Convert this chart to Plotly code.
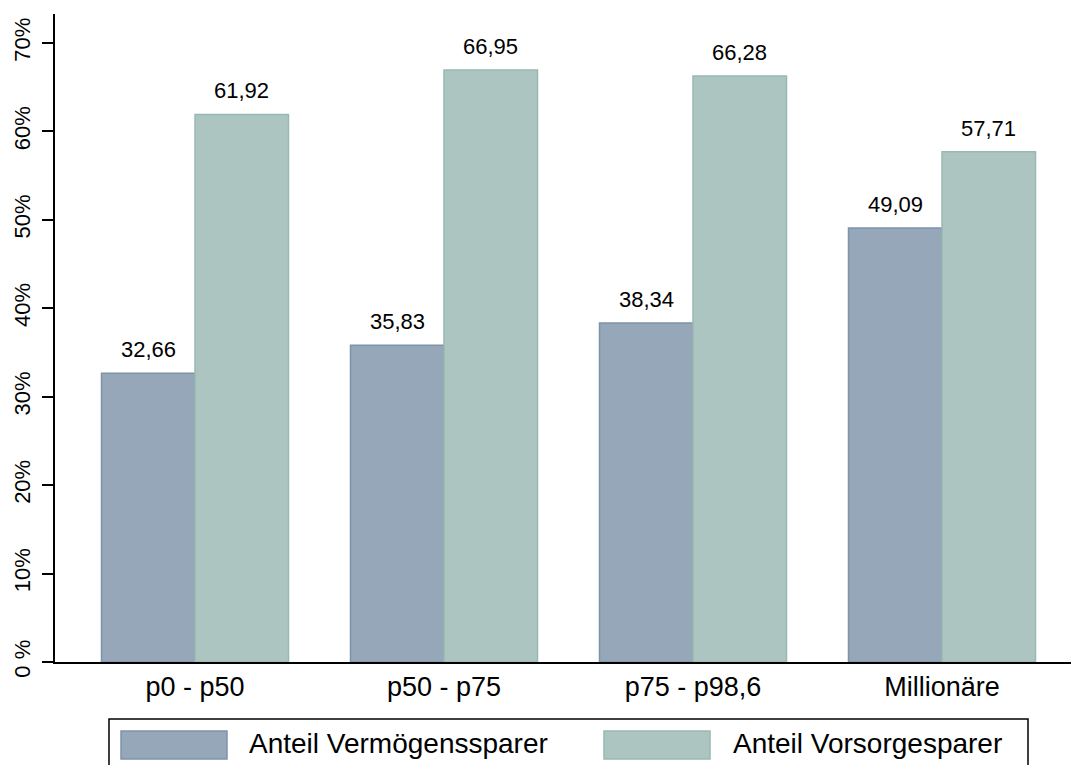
import plotly.graph_objects as go

categories = ["p0 - p50", "p50 - p75", "p75 - p98,6", "Millionäre"]
series_names = ["Anteil Vermögenssparer", "Anteil Vorsorgesparer"]
vermoegen = [32.66, 35.83, 38.34, 49.09]
vorsorge = [61.92, 66.95, 66.28, 57.71]
y_tickvals = [0, 10, 20, 30, 40, 50, 60, 70]
y_ticktext = ["0 %", "10%", "20%", "30%", "40%", "50%", "60%", "70%"]

W, H = 1071, 765
ML, MR, MT, MB = 55, 0, 14, 103
PW, PH = W - ML - MR, H - MT - MB

FONT = "Liberation Sans, Arial, sans-serif"
BLUE, BLUE_LINE = "#95A7B9", "#7E93AA"
GREEN, GREEN_LINE = "#ADC5C0", "#98B9B2"


def fmt(v):
    return f"{v:.2f}".replace(".", ",")


def px(x):
    return (x - ML) / PW


def py(y):
    return (H - MB - y) / PH


fig = go.Figure()
fig.add_trace(go.Bar(x=categories, y=vermoegen, name=series_names[0],
                     marker=dict(color=BLUE, line=dict(color=BLUE_LINE, width=1.5))))
fig.add_trace(go.Bar(x=categories, y=vorsorge, name=series_names[1],
                     marker=dict(color=GREEN, line=dict(color=GREEN_LINE, width=1.5))))

annotations = []
bar_px = 93.5
for vals, shift in ((vermoegen, -bar_px / 2), (vorsorge, bar_px / 2)):
    for c, v in zip(categories, vals):
        annotations.append(dict(x=c, y=v, xref="x", yref="y", text=fmt(v),
                                showarrow=False, xshift=shift, yanchor="bottom",
                                yshift=9, font=dict(family=FONT, size=22, color="black")))

# legend drawn manually (box, swatches, labels)
shapes = [
    dict(type="rect", xref="paper", yref="paper", x0=px(109), x1=px(1028),
         y0=py(772), y1=py(719), line=dict(color="black", width=1.5), fillcolor="white"),
    dict(type="rect", xref="paper", yref="paper", x0=px(121), x1=px(227),
         y0=py(759), y1=py(731), line=dict(color=BLUE_LINE, width=1.5), fillcolor=BLUE),
    dict(type="rect", xref="paper", yref="paper", x0=px(604), x1=px(710),
         y0=py(759), y1=py(731), line=dict(color=GREEN_LINE, width=1.5), fillcolor=GREEN),
]
for name, x0 in ((series_names[0], 247), (series_names[1], 731)):
    annotations.append(dict(x=px(x0), y=py(744), xref="paper", yref="paper", text=name,
                            showarrow=False, xanchor="left", yanchor="middle",
                            font=dict(family=FONT, size=28, color="black")))

span = 249.0
center0 = 195.0
x_range = [(ML - center0) / span, (W - MR - center0) / span]

fig.update_layout(
    width=W, height=H,
    margin=dict(l=ML, r=MR, t=MT, b=MB, pad=0),
    paper_bgcolor="white", plot_bgcolor="white",
    barmode="group", bargap=0.249, bargroupgap=0,
    showlegend=False,
    font=dict(family=FONT, color="black"),
    xaxis=dict(range=x_range, showline=True, linecolor="black", linewidth=2,
               ticks="", showgrid=False, zeroline=False,
               tickfont=dict(family=FONT, size=27, color="black")),
    yaxis=dict(range=[0, 73.28], tickvals=y_tickvals, ticktext=y_ticktext,
               showline=True, linecolor="black", linewidth=2,
               ticks="outside", ticklen=11, tickwidth=1.5, tickcolor="black",
               tickangle=-90, showgrid=False, zeroline=False, ticklabelstandoff=3,
               tickfont=dict(family=FONT, size=22, color="black")),
    annotations=annotations,
    shapes=shapes,
)

fig.write_html("out.html", config={"displayModeBar": False},
               post_script="document.body.style.margin='0';document.body.style.overflow='hidden';")
